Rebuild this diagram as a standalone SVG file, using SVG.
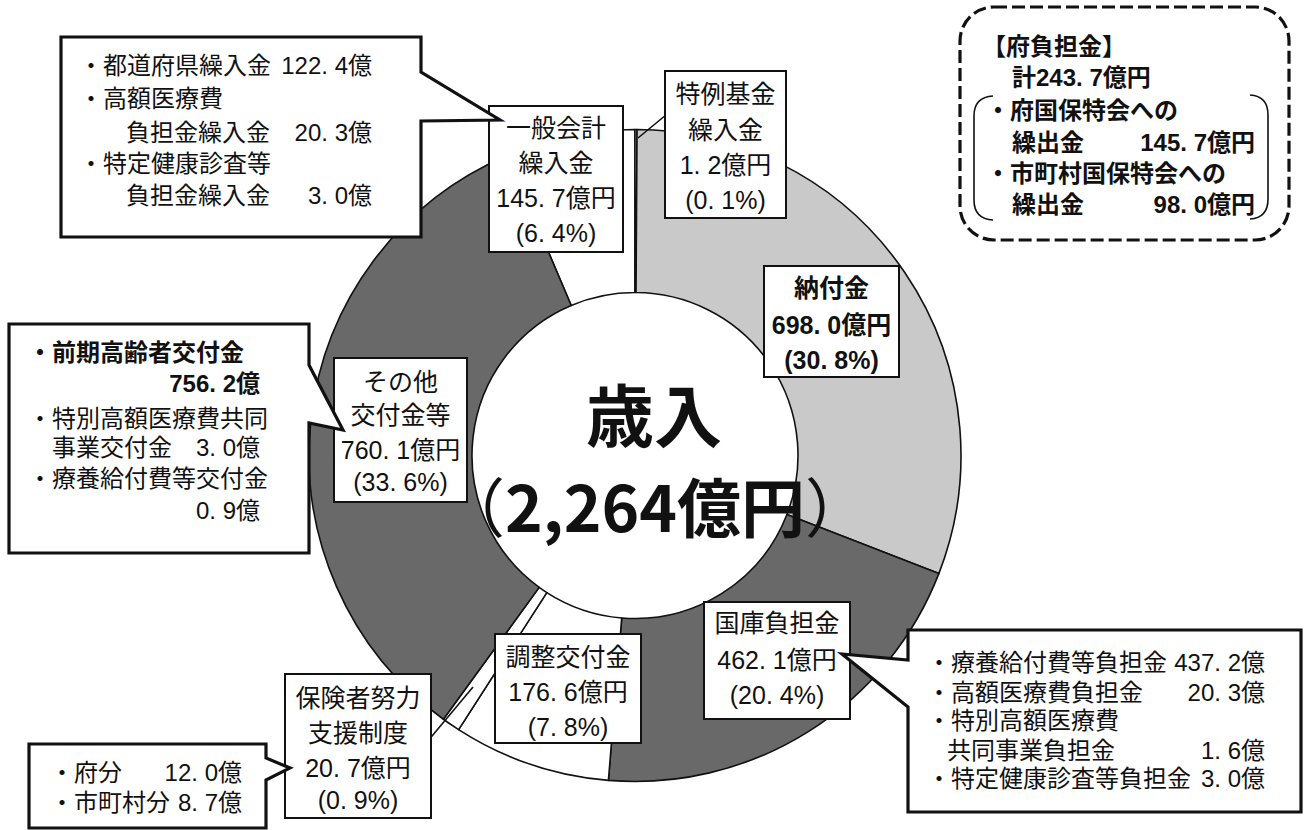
<svg xmlns="http://www.w3.org/2000/svg" width="1306" height="830" viewBox="0 0 1306 830">
<style>
.slice{stroke:#111;stroke-width:1.6;stroke-linejoin:round}
.dark{fill:#696969}
.light{fill:#c9c9c9}
.white{fill:#fff}
.box{fill:#fff;stroke:#111;stroke-width:2}
.callout{fill:#fff;stroke:#111;stroke-width:3.2;stroke-linejoin:miter}
.dash{fill:#fff;stroke:#111;stroke-width:3.2;stroke-dasharray:13 5}
.leader{fill:none;stroke:#111;stroke-width:1.6}
.brk{fill:none;stroke:#111;stroke-width:1.6}
text{font-family:"Liberation Sans","Noto Sans CJK JP",sans-serif;fill:#111;dominant-baseline:central}
.lb{font-size:25px;text-anchor:middle}
.ct{font-size:24px}
.e{text-anchor:end}
.b{font-weight:bold}
.big{font-family:"Noto Sans CJK JP",sans-serif;font-weight:bold;text-anchor:middle}
</style>
<rect width="1306" height="830" fill="#fff"/>
<g id="donut">
<path id="s-ippan" class="slice white" d="M507.42,155.50 A326,326 0 0 1 635,129.5 L635,292.5 A163,163 0 0 0 571.21,305.50 Z"/>
<path id="s-tokurei" class="slice white" d="M635,129.5 A326,326 0 0 1 637.05,129.51 L636.02,292.5 A163,163 0 0 0 635,292.5 Z"/>
<path id="s-noufu" class="slice light" d="M637.05,129.51 A326,326 0 0 1 938.85,573.59 L786.92,514.55 A163,163 0 0 0 636.02,292.5 Z"/>
<path id="s-kokko" class="slice dark" d="M938.85,573.59 A326,326 0 0 1 608.40,780.41 L621.70,617.96 A163,163 0 0 0 786.92,514.55 Z"/>
<path id="s-chousei" class="slice white" d="M608.40,780.41 A326,326 0 0 1 458.60,729.65 L546.80,592.58 A163,163 0 0 0 621.70,617.96 Z"/>
<path id="s-hoken" class="slice white" d="M458.60,729.65 A326,326 0 0 1 443.38,719.24 L539.19,587.37 A163,163 0 0 0 546.80,592.58 Z"/>
<path id="s-sonota" class="slice dark" d="M443.38,719.24 A326,326 0 0 1 507.42,155.50 L571.21,305.50 A163,163 0 0 0 539.19,587.37 Z"/>
</g>
<g id="center">
<text class="big" x="654" y="412" font-size="68">歳入</text>
<text class="big" x="655" y="504" font-size="64"><tspan font-weight="normal">（</tspan>2,264億円<tspan font-weight="normal">）</tspan></text>
</g>
<g id="connectors">
<line class="leader" x1="672" y1="110" x2="638" y2="138"/>
<line class="leader" x1="422" y1="748" x2="473" y2="687"/>
</g>
<g id="ippan">
<rect class="box" x="489" y="106" width="134" height="146"/>
<text class="lb" x="556" y="128">一般会計</text>
<text class="lb" x="556" y="163">繰入金</text>
<text class="lb" x="556" y="198">145. 7億円</text>
<text class="lb" x="556" y="233">(6. 4%)</text>
</g>
<g id="tokurei">
<rect class="box" x="665" y="71" width="121" height="147"/>
<text class="lb" x="725.5" y="94">特例基金</text>
<text class="lb" x="725.5" y="130">繰入金</text>
<text class="lb" x="725.5" y="165">1. 2億円</text>
<text class="lb" x="725.5" y="200">(0. 1%)</text>
</g>
<g id="noufu">
<rect class="box" x="764" y="266" width="135" height="111"/>
<text class="lb b" x="831.5" y="288">納付金</text>
<text class="lb b" x="831.5" y="325">698. 0億円</text>
<text class="lb b" x="831.5" y="360">(30. 8%)</text>
</g>
<g id="sonota">
<rect class="box" x="334" y="358" width="133" height="144"/>
<text class="lb" x="400.5" y="382">その他</text>
<text class="lb" x="400.5" y="415">交付金等</text>
<text class="lb" x="400.5" y="450">760. 1億円</text>
<text class="lb" x="400.5" y="482">(33. 6%)</text>
</g>
<g id="kokko">
<rect class="box" x="704" y="602" width="146" height="117"/>
<text class="lb" x="777" y="623">国庫負担金</text>
<text class="lb" x="777" y="660">462. 1億円</text>
<text class="lb" x="777" y="695">(20. 4%)</text>
</g>
<g id="chousei">
<rect class="box" x="495" y="634" width="146" height="109"/>
<text class="lb" x="568" y="657">調整交付金</text>
<text class="lb" x="568" y="692">176. 6億円</text>
<text class="lb" x="568" y="727">(7. 8%)</text>
</g>
<g id="hoken">
<rect class="box" x="285" y="674" width="146" height="144"/>
<text class="lb" x="358" y="698">保険者努力</text>
<text class="lb" x="358" y="733">支援制度</text>
<text class="lb" x="358" y="768">20. 7億円</text>
<text class="lb" x="358" y="800">(0. 9%)</text>
</g>
<g id="callout-ippan">
<path class="callout" d="M61,37 H421 V72 L500,120 L421,121 V237 H61 Z"/>
<text class="ct" x="79" y="65">・都道府県繰入金</text><text class="ct e" x="372" y="65">122. 4億</text>
<text class="ct" x="79" y="98">・高額医療費</text>
<text class="ct" x="126" y="132">負担金繰入金</text><text class="ct e" x="372" y="132">20. 3億</text>
<text class="ct" x="79" y="163">・特定健康診査等</text>
<text class="ct" x="126" y="195">負担金繰入金</text><text class="ct e" x="372" y="195">3. 0億</text>
</g>
<g id="callout-sonota">
<path class="callout" d="M9,324 H309 V365 L343,430 L309,423 V553 H9 Z"/>
<text class="ct b" x="28" y="352">・前期高齢者交付金</text>
<text class="ct b e" x="260" y="383">756. 2億</text>
<text class="ct" x="28" y="418">・特別高額医療費共同</text>
<text class="ct" x="52" y="447">事業交付金</text><text class="ct e" x="260" y="447">3. 0億</text>
<text class="ct" x="28" y="478">・療養給付費等交付金</text>
<text class="ct e" x="260" y="510">0. 9億</text>
</g>
<g id="callout-hoken">
<path class="callout" d="M29,744 H266 V758 L290,768 L266,780 V828 H29 Z"/>
<text class="ct" x="50" y="772">・府分</text><text class="ct e" x="242" y="772">12. 0億</text>
<text class="ct" x="50" y="802">・市町村分</text><text class="ct e" x="242" y="802">8. 7億</text>
</g>
<g id="callout-kokko">
<path class="callout" d="M908,630 H1301 V812 H908 V707 L842,654 L908,660 Z"/>
<text class="ct" x="927" y="662">・療養給付費等負担金</text><text class="ct e" x="1265" y="662">437. 2億</text>
<text class="ct" x="927" y="692">・高額医療費負担金</text><text class="ct e" x="1265" y="692">20. 3億</text>
<text class="ct" x="927" y="720">・特別高額医療費</text>
<text class="ct" x="947" y="750">共同事業負担金</text><text class="ct e" x="1265" y="750">1. 6億</text>
<text class="ct" x="927" y="778">・特定健康診査等負担金</text><text class="ct e" x="1265" y="778">3. 0億</text>
</g>
<g id="fu-futan">
<rect class="dash" x="960" y="7" width="329" height="233" rx="34" ry="34"/>
<path class="brk" d="M993,96 Q974,97 974,116 V200 Q974,219 993,220"/>
<path class="brk" d="M1250,95 Q1268,96 1268,115 V199 Q1268,218 1250,219"/>
<text class="ct b" x="982" y="46">【府負担金】</text>
<text class="ct b" x="1012" y="77">計243. 7億円</text>
<text class="ct b" x="986" y="110">・府国保特会への</text>
<text class="ct b" x="1012" y="142">繰出金</text><text class="ct b e" x="1255" y="142">145. 7億円</text>
<text class="ct b" x="986" y="173">・市町村国保特会への</text>
<text class="ct b" x="1012" y="204">繰出金</text><text class="ct b e" x="1255" y="204">98. 0億円</text>
</g>
</svg>
